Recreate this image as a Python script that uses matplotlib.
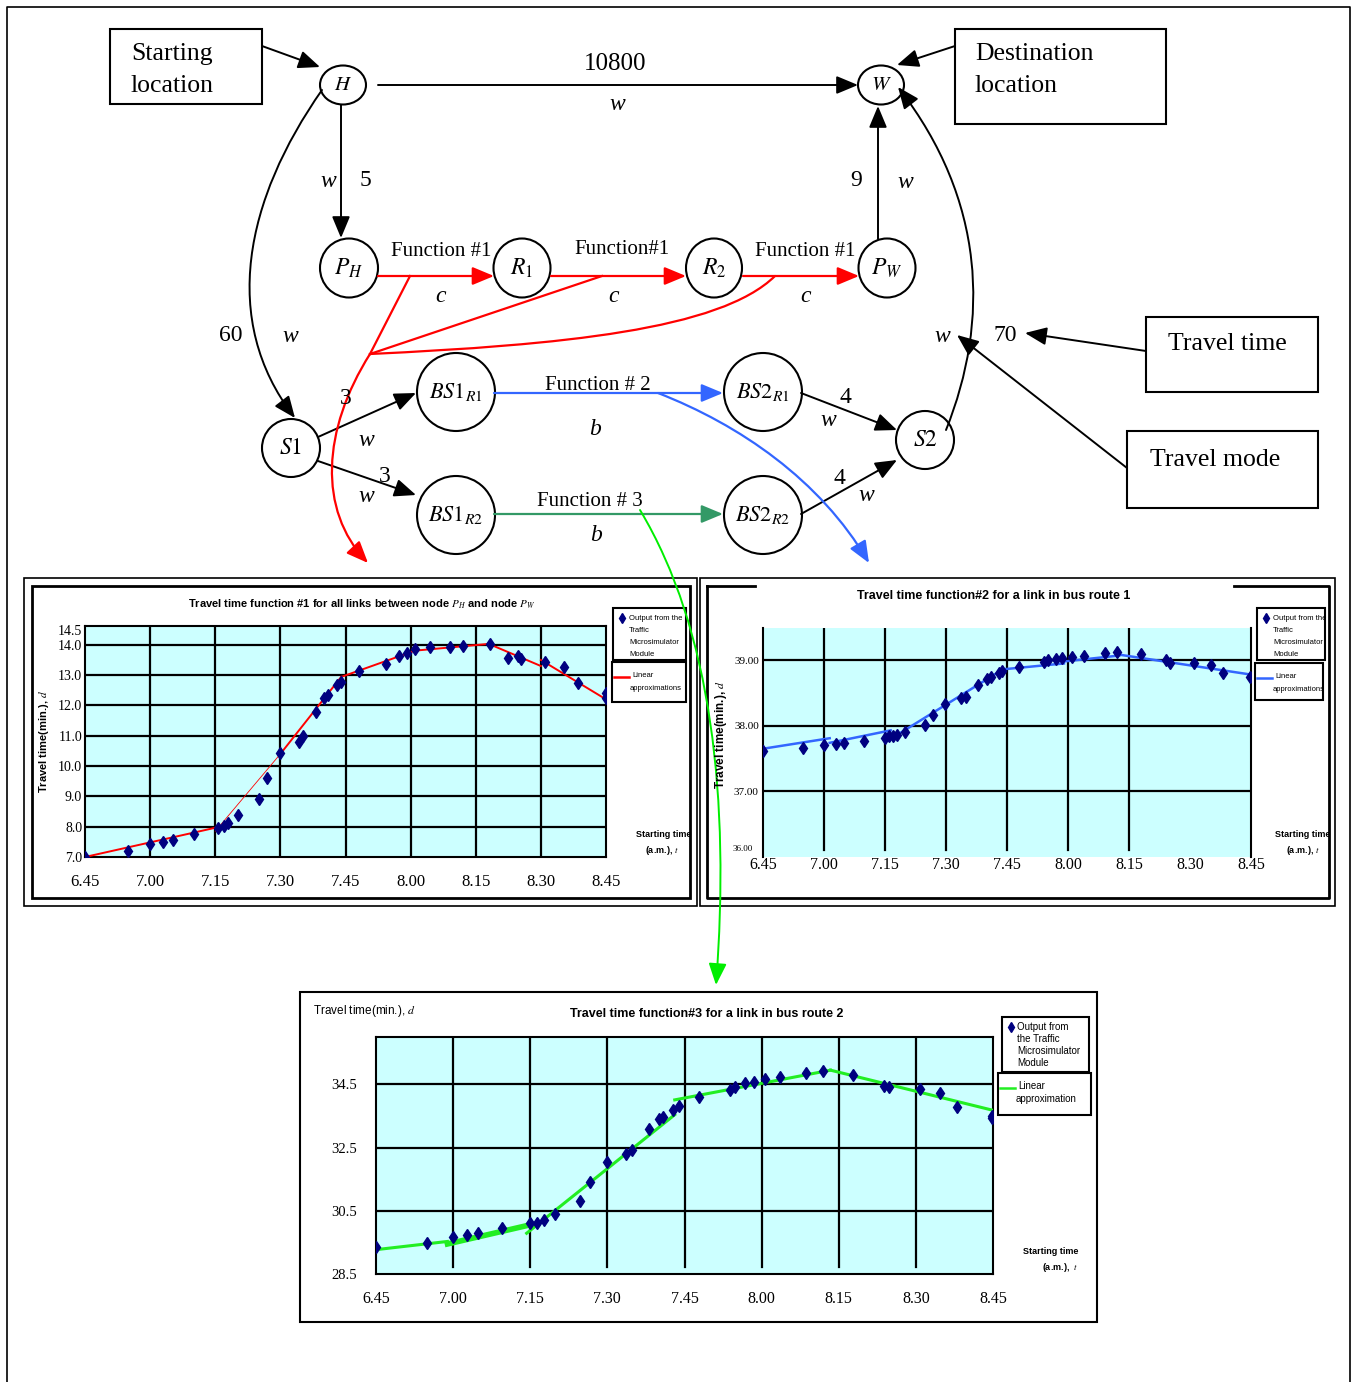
import numpy as np
import matplotlib.pyplot as plt
from matplotlib.patches import Ellipse, Rectangle, FancyArrowPatch
from matplotlib.path import Path

plt.rcParams['mathtext.fontset'] = 'stix'
SERIF = 'Liberation Serif'
SANS = 'Liberation Sans'
NARROW = ['Liberation Sans Narrow', 'Liberation Sans']

W, H = 1353, 1382

# ---- chart data: minutes after 6:45 am vs travel time (min.)
time_labels = ['6.45', '7.00', '7.15', '7.30', '7.45', '8.00', '8.15', '8.30', '8.45']
tick_minutes = [0, 15, 30, 45, 60, 75, 90, 105, 120]

# function #1 (links between P_H and P_W)
f1_t = [0, 9.8, 15, 18, 20.2, 25.1, 30.7, 32, 33, 35.2, 40.1, 42, 45, 49.2, 50.2, 53.1,
        55.1, 56, 58, 59, 63.2, 69.4, 72.3, 74.1, 76, 79.4, 84.1, 87.1, 93.3, 97.4,
        99.7, 100.4, 106, 110.4, 113.5, 120, 120]
f1_d = [7.0, 7.2, 7.42, 7.48, 7.55, 7.75, 7.97, 8.02, 8.13, 8.38, 8.9, 9.6, 10.43, 10.8,
        11.0, 11.78, 12.25, 12.33, 12.66, 12.78, 13.14, 13.38, 13.64, 13.73, 13.86, 13.94,
        13.94, 13.97, 14.02, 13.56, 13.62, 13.53, 13.42, 13.28, 12.75, 12.42, 12.25]
f1_seg_t = [[0, 30.5], [30, 45], [45, 59], [59, 75.5], [75.5, 93], [93, 105], [105, 120]]
f1_seg_d = [[7.0, 7.98], [7.85, 10.4], [10.4, 12.94], [12.94, 13.78], [13.8, 14.03],
            [14.03, 13.3], [13.5, 12.2]]

# function #2 (bus route 1)
f2_t = [0, 9.8, 14.9, 17.9, 19.9, 24.9, 29.9, 30.9, 31.9, 32.9, 34.9, 39.8, 41.8, 44.8,
        48.8, 49.8, 52.8, 55.1, 56.1, 58.1, 58.8, 63.0, 69.0, 70.2, 72.0, 73.5, 76.0,
        79.0, 84.0, 87.0, 92.9, 99.1, 100.1, 105.9, 110.1, 113.0, 119.8]
f2_d = [37.62, 37.66, 37.71, 37.72, 37.73, 37.77, 37.81, 37.84, 37.85, 37.86, 37.9, 38.01,
        38.16, 38.33, 38.42, 38.44, 38.62, 38.72, 38.75, 38.8, 38.83, 38.9, 38.97, 39.0,
        39.02, 39.03, 39.05, 39.07, 39.11, 39.13, 39.09, 39.0, 38.96, 38.96, 38.92, 38.81,
        38.74]
f2_seg_t = [[0, 16.4], [16.4, 31.4], [31.4, 59], [59, 74], [74, 87.6], [88, 120]]
f2_seg_d = [[37.65, 37.81], [37.74, 37.93], [37.8, 38.86], [38.86, 38.95], [38.98, 39.07],
            [39.08, 38.78]]

# function #3 (bus route 2)
f3_t = [0, 9.9, 14.9, 17.7, 19.9, 24.6, 30.0, 31.3, 32.6, 34.8, 39.7, 41.7, 44.9, 48.7,
        49.8, 53.1, 55.1, 55.8, 57.8, 58.9, 62.9, 68.8, 69.8, 71.8, 73.5, 75.7, 78.6, 83.7,
        86.9, 92.8, 98.8, 99.8, 105.8, 109.7, 113.0, 119.8, 119.8]
f3_d = [29.34, 29.48, 29.66, 29.72, 29.79, 29.97, 30.1, 30.12, 30.21, 30.4, 30.81, 31.41,
        32.03, 32.29, 32.42, 33.09, 33.41, 33.47, 33.7, 33.83, 34.09, 34.32, 34.41, 34.53,
        34.58, 34.66, 34.72, 34.86, 34.93, 34.79, 34.46, 34.41, 34.35, 34.22, 33.78, 33.51,
        33.44]
f3_seg_t = [[0, 13.9], [13.9, 29.3], [29.3, 58.1], [58.1, 88.4], [88.4, 120]]
f3_seg_d = [[29.27, 29.53], [29.45, 30.03], [29.79, 33.54], [34.01, 34.95], [34.95, 33.68]]

CYAN = '#ccffff'
NAVY = '#000080'
RED = '#ff0000'
BLUE = '#3366ff'
SEA = '#339966'
LIME = '#22ee22'

fig = plt.figure(figsize=(W / 100, H / 100), dpi=100)


def px_axes(x0, y0, x1, y1):
    return fig.add_axes([x0 / W, 1 - y1 / H, (x1 - x0) / W, (y1 - y0) / H])


def base_chart(ax, ylim, yticks, ylabels, ysize, xsize, xpad, ypad):
    ax.set_facecolor(CYAN)
    ax.set_xlim(0, 120)
    ax.set_ylim(*ylim)
    ax.set_xticks(tick_minutes)
    ax.set_xticklabels(time_labels, fontfamily=SERIF, fontsize=xsize)
    ax.set_yticks(yticks)
    ax.set_yticklabels(ylabels, fontfamily=SERIF, fontsize=ysize)
    ax.tick_params(length=0)
    ax.tick_params(axis='x', pad=xpad)
    ax.tick_params(axis='y', pad=ypad)
    for s in ax.spines.values():
        s.set_linewidth(1.5)


# ---- chart 1
ax1 = px_axes(85, 626, 606, 857)
base_chart(ax1, (7.0, 14.62), [7, 8, 9, 10, 11, 12, 13, 14, 14.5],
           ['7.0', '8.0', '9.0', '10.0', '11.0', '12.0', '13.0', '14.0', '14.5'],
           10, 12, 12, 2)
for v in [8, 9, 10, 11, 12, 13, 14]:
    ax1.axhline(v, color='black', lw=1.6)
for m in tick_minutes[1:-1]:
    ax1.axvline(m, color='black', lw=1.6)
for i, (st, sd) in enumerate(zip(f1_seg_t, f1_seg_d)):
    ax1.plot(st, sd, color=RED, lw=0.6 if i == 1 else 1.4, zorder=3)
ax1.plot(f1_t, f1_d, 'd', color=NAVY, ms=6, zorder=4)

# ---- chart 2
ax2 = px_axes(763, 628, 1251, 857)
base_chart(ax2, (36.0, 39.49), [37, 38, 39], ['37.00', '38.00', '39.00'],
           8, 11.5, 0, 3)
ax2.spines['top'].set_visible(False)
ax2.spines['bottom'].set_visible(False)
for v in [37, 38, 39]:
    ax2.axhline(v, color='black', lw=1.6)
for m in [15, 30, 45, 60, 75, 90]:
    ax2.axvline(m, ymin=0.03, color='black', lw=1.6)
for st, sd in zip(f2_seg_t, f2_seg_d):
    ax2.plot(st, sd, color=BLUE, lw=1.8, zorder=3)
ax2.plot(f2_t, f2_d, 'd', color=NAVY, ms=6, zorder=4)
ax2.text(-0.02, 0.035, '36.00', transform=ax2.transAxes, ha='right', va='center',
         fontsize=6.5, family=SERIF)

# ---- chart 3
ax3 = px_axes(376, 1037, 993, 1274)
base_chart(ax3, (28.5, 36.0), [28.5, 30.5, 32.5, 34.5], ['28.5', '30.5', '32.5', '34.5'],
           10.5, 11.5, 12, 14)
for v in [30.5, 32.5, 34.5]:
    ax3.axhline(v, color='black', lw=1.6)
for m in tick_minutes[1:-1]:
    ax3.axvline(m, ymin=0.03, color='black', lw=1.6)
for i, (st, sd) in enumerate(zip(f3_seg_t, f3_seg_d)):
    ax3.plot(st, sd, color=LIME, lw=4 if i == 1 else 2.2, zorder=3)
ax3.plot(f3_t, f3_d, 'd', color=NAVY, ms=6, zorder=4)

# ---- overlay in pixel coordinates
ov = fig.add_axes([0, 0, 1, 1])
ov.set_xlim(0, W)
ov.set_ylim(H, 0)
ov.axis('off')
ov.patch.set_alpha(0)

HEAD = '-|>,head_length=0.6,head_width=0.25'


def rect(x0, y0, x1, y1, lw=1.5, fc='none'):
    ov.add_patch(Rectangle((x0, y0), x1 - x0, y1 - y0, fill=fc != 'none', fc=fc,
                           ec='black', lw=lw, zorder=5))


def arrow(p0, p1, color='black', lw=1.4):
    ov.add_patch(FancyArrowPatch(p0, p1, arrowstyle=HEAD, mutation_scale=22, color=color,
                                 lw=lw, shrinkA=0, shrinkB=0, zorder=6))


def curve(pts, color='black', lw=1.4, head=True):
    path = Path(pts, [Path.MOVETO, Path.CURVE4, Path.CURVE4, Path.CURVE4])
    ov.add_patch(FancyArrowPatch(path=path, arrowstyle=HEAD if head else '-',
                                 mutation_scale=22, color=color, lw=lw, zorder=6))


def line(p0, p1, color='black', lw=1.4):
    ov.plot([p0[0], p1[0]], [p0[1], p1[1]], color=color, lw=lw, zorder=6)


def txt(x, y, s, size=16, ha='center', style='normal', family=SERIF, **kw):
    ov.text(x, y, s, fontsize=size, ha=ha, va='center', fontstyle=style,
            family=family, zorder=7, **kw)


# page frame
ov.plot([7, 7, 1350, 1350], [H + 5, 7, 7, H + 5], color='black', lw=1.2)

# diagram nodes
nodes = {
    'H': (343, 85, 46, 39, '$H$', 15),
    'W': (881, 85, 46, 39, '$W$', 15),
    'PH': (349, 268, 58, 59, '$P_H$', 17),
    'R1': (522, 268, 57, 59, '$R_1$', 17),
    'R2': (714, 268, 56, 59, '$R_2$', 17),
    'PW': (887, 268, 57, 59, '$P_W$', 17),
    'S1': (291, 448, 58, 58, '$S1$', 17),
    'BS1R1': (456, 392, 78, 78, '$BS1_{R1}$', 16),
    'BS2R1': (763, 392, 78, 78, '$BS2_{R1}$', 16),
    'BS1R2': (456, 515, 78, 78, '$BS1_{R2}$', 16),
    'BS2R2': (763, 515, 78, 78, '$BS2_{R2}$', 16),
    'S2': (925, 440, 58, 58, '$S2$', 17),
}
for x, y, w, h, lab, fs in nodes.values():
    ov.add_patch(Ellipse((x, y), w, h, fc='white', ec='black', lw=1.5, zorder=5))
    txt(x, y, lab, size=fs)

# boxes
rect(110, 29, 262, 104)
txt(131, 54, 'Starting', 18.5, ha='left')
txt(131, 86, 'location', 18.5, ha='left')
rect(955, 29, 1166, 124)
txt(975, 54, 'Destination', 18.5, ha='left')
txt(975, 86, 'location', 18.5, ha='left')
rect(1146, 317, 1318, 392)
txt(1168, 344, 'Travel time', 18.5, ha='left')
rect(1127, 431, 1318, 508)
txt(1150, 460, 'Travel mode', 18.5, ha='left')

# black walking edges
arrow((262, 46), (320, 67))
arrow((955, 46), (897, 65))
arrow((1146, 351), (1025, 333))
arrow((1127, 468), (957, 335))
arrow((378, 85), (858, 85))
arrow((341, 105), (341, 238))
arrow((878, 239), (878, 106))
curve([(322, 90), (245, 200), (220, 320), (295, 418)])
curve([(946, 430), (990, 320), (985, 200), (898, 87)])
arrow((318, 437), (416, 393))
arrow((318, 461), (416, 495))
arrow((801, 393), (897, 430))
arrow((801, 514), (897, 460))

# car (red) edges
arrow((378, 276), (494, 276), RED, 1.6)
arrow((551, 276), (686, 276), RED, 1.6)
arrow((743, 276), (859, 276), RED, 1.6)
line((410, 276), (370, 354), RED, 1.6)
line((602, 276), (370, 354), RED, 1.6)
curve([(775, 276), (720, 330), (560, 345), (370, 354)], RED, 1.6, head=False)
curve([(370, 354), (322, 430), (318, 510), (368, 563)], RED, 1.6)

# bus edges
arrow((494, 393), (723, 393), BLUE, 1.6)
curve([(658, 393), (740, 425), (820, 480), (869, 563)], BLUE, 1.6)
arrow((494, 514), (723, 514), SEA, 1.6)

# edge labels
txt(615, 64, '10800', 18)
txt(617, 104, 'w', 17, style='italic')
txt(328, 181, 'w', 17, style='italic')
txt(365, 180, '5', 17)
txt(231, 335, '60', 17)
txt(290, 336, 'w', 17, style='italic')
txt(856, 180, '9', 17)
txt(905, 182, 'w', 17, style='italic')
txt(942, 336, 'w', 17, style='italic')
txt(1005, 335, '70', 17)
txt(441, 251, 'Function #1', 15)
txt(622, 249, 'Function#1', 15)
txt(805, 251, 'Function #1', 15)
for cx in [441, 614, 806]:
    txt(cx, 296, 'c', 17, style='italic')
txt(346, 398, '3', 17)
txt(366, 440, 'w', 17, style='italic')
txt(385, 476, '3', 17)
txt(366, 496, 'w', 17, style='italic')
txt(598, 385, 'Function # 2', 15)
txt(595, 429, 'b', 17, style='italic')
txt(590, 501, 'Function # 3', 15)
txt(596, 535, 'b', 17, style='italic')
txt(845, 397, '4', 17)
txt(828, 420, 'w', 17, style='italic')
txt(839, 478, '4', 17)
txt(866, 495, 'w', 17, style='italic')

# chart frames
rect(24, 578, 697, 906, lw=1.2)
rect(32, 586, 690, 898, lw=2)
rect(700, 578, 1335, 906, lw=1.2)
ov.plot([707, 755], [586, 586], color='black', lw=2)
ov.plot([1234, 1329, 1329, 707, 707], [586, 586, 898, 898, 586], color='black', lw=2)
rect(300, 992, 1097, 1322, lw=1.5)

# chart titles and axis texts
txt(362, 604, 'Travel time function #1 for all links between node $P_H$ and node $P_W$',
    8, family=NARROW, weight='bold')
txt(44, 741, 'Travel time(min.), $d$', 8, family=SANS, weight='bold', rotation=90)
txt(664, 834, 'Starting time', 6.5, family=NARROW, weight='bold')
txt(662, 850, '(a.m.), $t$', 6.5, family=NARROW, weight='bold')

txt(994, 596, 'Travel time function#2 for a link in bus route 1', 9, family=SANS,
    weight='bold')
txt(721, 735, 'Travel time(min.), $d$', 8.5, family=SANS, weight='bold', rotation=90)
txt(1303, 834, 'Starting time', 6.5, family=NARROW, weight='bold')
txt(1303, 850, '(a.m.), $t$', 6.5, family=NARROW, weight='bold')

txt(707, 1014, 'Travel time function#3 for a link in bus route 2', 9, family=SANS,
    weight='bold')
txt(313, 1011, 'Travel time(min.), $d$', 8.5, family=SANS, ha='left')
txt(1051, 1252, 'Starting time', 6.5, family=SANS, weight='bold')
txt(1060, 1267, '(a.m.),  $t$', 6.5, family=SANS, weight='bold')

# legends
legends = [
    ((613, 608, 686, 660), (612, 662, 686, 702), RED, 'approximations', 5.5, 12),
    ((1257, 608, 1325, 660), (1255, 663, 1323, 700), BLUE, 'approximations', 5.5, 12),
    ((1002, 1017, 1089, 1072), (998, 1073, 1091, 1115), LIME, 'approximation', 7, 12),
]
for b1, b2, col, word, fs, step in legends:
    rect(*b1, lw=1.5, fc='white')
    rect(*b2, lw=1.5, fc='white')
    ox = b1[0] + 15 if fs > 6 else b1[0] + 16
    ov.plot([b1[0] + 9], [b1[1] + 10], 'd', color=NAVY, ms=5, zorder=8)
    if fs > 6:
        rows = ['Output from', 'the Traffic', 'Microsimulator', 'Module']
    else:
        rows = ['Output from the', 'Traffic', 'Microsimulator', 'Module']
    for k, r in enumerate(rows):
        txt(ox, b1[1] + 10 + k * step, r, fs, family=NARROW, ha='left')
    ly = b2[1] + 15
    ov.plot([b2[0] + 2, b2[0] + 17], [ly, ly], color=col, lw=1.8, zorder=8)
    txt(b2[0] + 20, ly - 2, 'Linear', fs, family=NARROW, ha='left')
    txt(b2[0] + 18, ly + 11, word, fs, family=NARROW, ha='left')

# bright green link from function #3 to its chart
curve([(640, 510), (712, 630), (730, 800), (716, 985)], '#00ee00', 1.4)

fig.savefig('out.png', dpi=100)
